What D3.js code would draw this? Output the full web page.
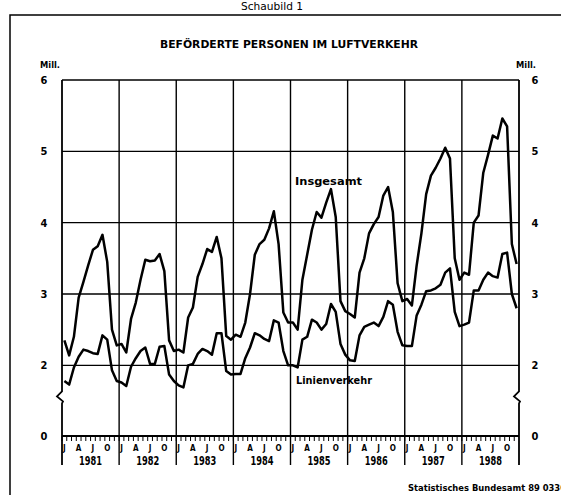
<!DOCTYPE html>
<html>
<head>
<meta charset="utf-8">
<script src="https://d3js.org/d3.v7.min.js"></script>
<style>
body { margin: 0; background: #fff; }
svg { display: block; }
text {
  font-family: "Liberation Sans Narrow", "DejaVu Sans Condensed", "Liberation Sans", Arial, sans-serif;
  font-stretch: condensed;
  font-weight: bold;
  fill: #000;
}
</style>
</head>
<body>
<div id="viz"></div>
<script>

// monthly values, Mill. persons, Jan 1981 - Dec 1988
var insgesamt = [
  2.35, 2.14, 2.40, 2.95, 3.17, 3.40, 3.62, 3.67, 3.83, 3.45, 2.50, 2.28,
  2.30, 2.18, 2.65, 2.88, 3.20, 3.48, 3.46, 3.47, 3.56, 3.32, 2.35, 2.20,
  2.22, 2.18, 2.67, 2.81, 3.24, 3.42, 3.63, 3.59, 3.80, 3.50, 2.41, 2.36,
  2.43, 2.40, 2.60, 3.00, 3.55, 3.70, 3.76, 3.92, 4.16, 3.70, 2.74, 2.60,
  2.60, 2.50, 3.20, 3.55, 3.90, 4.15, 4.07, 4.28, 4.47, 4.08, 2.90, 2.76,
  2.72, 2.67, 3.30, 3.50, 3.85, 3.98, 4.08, 4.38, 4.50, 4.15, 3.15, 2.90,
  2.93, 2.84, 3.40, 3.85, 4.40, 4.66, 4.77, 4.90, 5.05, 4.90, 3.50, 3.20,
  3.30, 3.27, 4.00, 4.10, 4.70, 4.95, 5.22, 5.18, 5.46, 5.35, 3.70, 3.42
];
var linienverkehr = [
  1.78, 1.73, 1.97, 2.12, 2.22, 2.20, 2.17, 2.16, 2.42, 2.36, 1.93, 1.78,
  1.76, 1.71, 1.98, 2.10, 2.20, 2.25, 2.02, 2.02, 2.26, 2.27, 1.87, 1.78,
  1.72, 1.69, 2.00, 2.02, 2.16, 2.23, 2.20, 2.15, 2.45, 2.45, 1.92, 1.87,
  1.88, 1.88, 2.10, 2.25, 2.45, 2.42, 2.37, 2.34, 2.63, 2.60, 2.20, 2.00,
  2.00, 1.97, 2.36, 2.40, 2.64, 2.60, 2.50, 2.58, 2.86, 2.75, 2.30, 2.15,
  2.07, 2.06, 2.42, 2.54, 2.57, 2.60, 2.55, 2.68, 2.90, 2.85, 2.47, 2.28,
  2.27, 2.27, 2.70, 2.85, 3.04, 3.05, 3.08, 3.13, 3.30, 3.36, 2.75, 2.55,
  2.57, 2.60, 3.05, 3.05, 3.20, 3.30, 3.25, 3.23, 3.56, 3.58, 3.00, 2.80
];
var years = [1981, 1982, 1983, 1984, 1985, 1986, 1987, 1988];
var monthLabels = [[0, "J"], [3, "A"], [6, "J"], [9, "O"]];
var yTicks = [0, 2, 3, 4, 5, 6];
var gridValues = [2, 3, 4, 5, 6];

var W = 561, H = 495;
var plotL = 62, plotR = 519, plotT = 80, zeroY = 436, bottomLine = 465;

var svg = d3.select("#viz").append("svg")
    .attr("width", W)
    .attr("height", H);

// x = month index, y has a break between 0 and 1.5
var x = d3.scaleLinear().domain([0, years.length * 12]).range([plotL, plotR]);
var y = d3.scaleLinear().domain([0, 1.5, 6]).range([zeroY, 401, plotT]);

// caption above the frame
svg.append("text")
    .attr("x", 272).attr("y", 10)
    .attr("text-anchor", "middle")
    .attr("textLength", 62).attr("lengthAdjust", "spacingAndGlyphs")
    .style("font-size", "10px")
    .style("font-weight", "normal")
    .text("Schaubild 1");

// outer frame, only left and top edges visible
svg.append("path")
    .attr("d", "M10," + H + " L10,15 L" + W + ",15")
    .attr("fill", "none").attr("stroke", "#000").attr("stroke-width", 1.5);

svg.append("text")
    .attr("x", 289).attr("y", 48)
    .attr("text-anchor", "middle")
    .attr("textLength", 258).attr("lengthAdjust", "spacingAndGlyphs")
    .style("font-size", "11px")
    .text("BEFÖRDERTE PERSONEN IM LUFTVERKEHR");

// horizontal grid lines
svg.append("g").selectAll("line")
    .data(gridValues)
    .join("line")
    .attr("x1", plotL).attr("x2", plotR)
    .attr("y1", function(d) { return y(d); })
    .attr("y2", function(d) { return y(d); })
    .attr("stroke", "#000").attr("stroke-width", 1.4);

// zero line
svg.append("line")
    .attr("x1", plotL).attr("x2", plotR)
    .attr("y1", y(0)).attr("y2", y(0))
    .attr("stroke", "#000").attr("stroke-width", 2);

// year separators (inner ones)
svg.append("g").selectAll("line")
    .data(d3.range(1, years.length))
    .join("line")
    .attr("x1", function(d) { return x(d * 12); })
    .attr("x2", function(d) { return x(d * 12); })
    .attr("y1", plotT).attr("y2", bottomLine)
    .attr("stroke", "#000").attr("stroke-width", 1.4);

// outer vertical axes with a break mark
function breakPath(px) {
  var b = y(1.55);
  return "M" + px + "," + plotT + " L" + px + "," + (b - 6) +
    " L" + (px - 5) + "," + (b - 1) + " L" + (px + 1) + "," + (b + 4) +
    " L" + px + "," + (b + 6) + " L" + px + "," + bottomLine;
}
svg.append("path").attr("d", breakPath(plotL))
    .attr("fill", "none").attr("stroke", "#000").attr("stroke-width", 1.8);
svg.append("path").attr("d", breakPath(plotR))
    .attr("fill", "none").attr("stroke", "#000").attr("stroke-width", 1.8);

// monthly ticks under the zero line
svg.append("g").selectAll("line")
    .data(d3.range(0, years.length * 12))
    .join("line")
    .attr("x1", function(d) { return x(d); })
    .attr("x2", function(d) { return x(d); })
    .attr("y1", y(0)).attr("y2", y(0) + 5)
    .attr("stroke", "#000").attr("stroke-width", 1);

// month letters and year labels
years.forEach(function(yr, i) {
  monthLabels.forEach(function(m) {
    svg.append("text")
      .attr("x", x(i * 12 + m[0] + 0.5)).attr("y", 451)
      .attr("text-anchor", "middle")
      .style("font-size", "8px")
      .text(m[1]);
  });
  svg.append("text")
    .attr("x", x(i * 12 + 6)).attr("y", 465)
    .attr("text-anchor", "middle")
    .attr("textLength", 23).attr("lengthAdjust", "spacingAndGlyphs")
    .style("font-size", "12px")
    .text(yr);
});

// y tick labels both sides
[44, 535].forEach(function(px) {
  svg.append("g").selectAll("text")
    .data(yTicks)
    .join("text")
    .attr("x", px)
    .attr("y", function(d) { return y(d) + 4; })
    .attr("text-anchor", "middle")
    .style("font-size", "11px")
    .text(function(d) { return d; });
});
svg.append("text").attr("x", 40).attr("y", 68)
    .attr("textLength", 20).attr("lengthAdjust", "spacingAndGlyphs")
    .style("font-size", "9px").text("Mill.");
svg.append("text").attr("x", 516).attr("y", 68)
    .attr("textLength", 20).attr("lengthAdjust", "spacingAndGlyphs")
    .style("font-size", "9px").text("Mill.");

// the two series
var line = d3.line()
    .x(function(d, i) { return x(i + 0.5); })
    .y(function(d) { return y(d); });

[insgesamt, linienverkehr].forEach(function(series) {
  svg.append("path")
    .datum(series)
    .attr("d", line)
    .attr("fill", "none")
    .attr("stroke", "#000")
    .attr("stroke-width", 2.5)
    .attr("stroke-linejoin", "round");
});

svg.append("text").attr("x", 295).attr("y", 185)
    .attr("textLength", 67).attr("lengthAdjust", "spacingAndGlyphs")
    .style("font-size", "11px").text("Insgesamt");
svg.append("text").attr("x", 296).attr("y", 384)
    .attr("textLength", 76).attr("lengthAdjust", "spacingAndGlyphs")
    .style("font-size", "11px").text("Linienverkehr");

// source note, runs off the right edge
svg.append("text").attr("x", 408).attr("y", 491)
    .attr("textLength", 158).attr("lengthAdjust", "spacingAndGlyphs")
    .style("font-size", "8px").text("Statistisches Bundesamt 89 0330");

</script>
</body>
</html>
